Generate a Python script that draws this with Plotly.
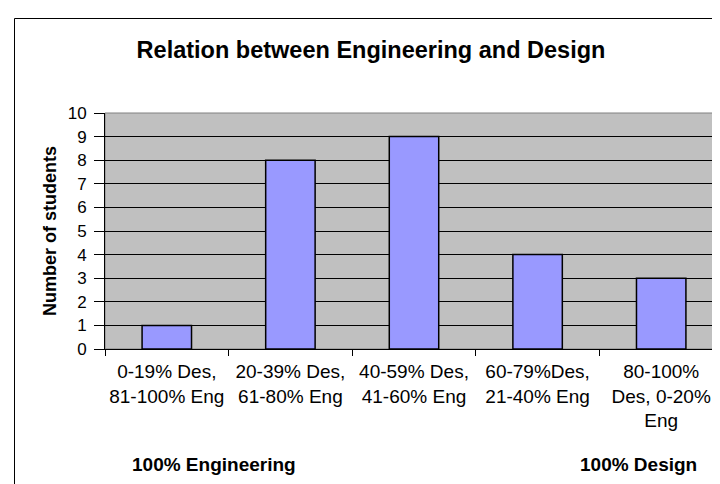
import plotly.graph_objects as go

categories = [
    "0-19% Des,<br>81-100% Eng",
    "20-39% Des,<br>61-80% Eng",
    "40-59% Des,<br>41-60% Eng",
    "60-79%Des,<br>21-40% Eng",
    "80-100%<br>Des, 0-20%<br>Eng",
]
students = [1, 8, 9, 4, 3]
y_ticks = list(range(0, 11))

FONT = "Liberation Sans, Arial, sans-serif"

W, H = 720, 484
L, R, T, B = 97, 715, 105, 341
pw, ph = R - L, B - T

def px_x(x):
    return (x - L) / pw

def px_y(y):
    return (B - y) / ph

fig = go.Figure(
    go.Bar(
        x=categories,
        y=students,
        marker=dict(color="#9999FF", line=dict(color="black", width=1.5)),
        width=0.4,
    )
)

fig.update_layout(
    width=W,
    height=H,
    margin=dict(l=L, r=W - R, t=T, b=H - B, pad=0, autoexpand=False),
    paper_bgcolor="white",
    plot_bgcolor="#C0C0C0",
    showlegend=False,
    font=dict(family=FONT, color="black"),
    title=dict(
        text="<b>Relation between Engineering and Design</b>",
        font=dict(family=FONT, size=23.5, color="black"),
        x=363 / W,
        xanchor="center",
        xref="container",
        y=1 - 42 / H,
        yanchor="middle",
        yref="container",
        automargin=False,
    ),
    bargap=0.6,
)

fig.update_yaxes(
    range=[0, 10],
    tickvals=y_ticks,
    showgrid=True,
    gridcolor="black",
    gridwidth=1,
    zeroline=False,
    showline=True,
    linecolor="black",
    linewidth=1,
    ticks="outside",
    ticklen=10,
    tickcolor="black",
    tickfont=dict(family=FONT, size=17, color="black"),
    ticklabelstandoff=4,
    automargin=False,
    fixedrange=True,
)

fig.update_xaxes(
    type="category",
    tickson="boundaries",
    ticks="outside",
    ticklen=6,
    tickcolor="black",
    showline=True,
    linecolor="black",
    linewidth=1,
    showgrid=False,
    tickangle=0,
    tickfont=dict(family=FONT, size=19, color="black"),
    ticklabelstandoff=5,
    automargin=False,
    fixedrange=True,
)

# plot-area border (gray) and outer chart border
fig.add_shape(type="rect", xref="paper", yref="paper", x0=0, x1=1, y0=0, y1=1,
              line=dict(color="#808080", width=1), layer="below")
fig.add_shape(type="rect", xref="paper", yref="paper",
              x0=px_x(6.5), x1=px_x(726), y0=px_y(492), y1=px_y(10.5),
              line=dict(color="black", width=1), fillcolor="rgba(0,0,0,0)", layer="above")

fig.add_annotation(text="<b>Number of students</b>", xref="paper", yref="paper",
                   x=px_x(42), y=0.5, textangle=-90, showarrow=False,
                   xanchor="center", yanchor="middle",
                   font=dict(family=FONT, size=18, color="black"))
fig.add_annotation(text="<b>100% Engineering</b>", xref="paper", yref="paper",
                   x=px_x(206), y=px_y(456), showarrow=False,
                   xanchor="center", yanchor="middle",
                   font=dict(family=FONT, size=19, color="black"))
fig.add_annotation(text="<b>100% Design</b>", xref="paper", yref="paper",
                   x=px_x(630), y=px_y(456), showarrow=False,
                   xanchor="center", yanchor="middle",
                   font=dict(family=FONT, size=19, color="black"))

fig.write_html("out.html", config={"displayModeBar": False})
